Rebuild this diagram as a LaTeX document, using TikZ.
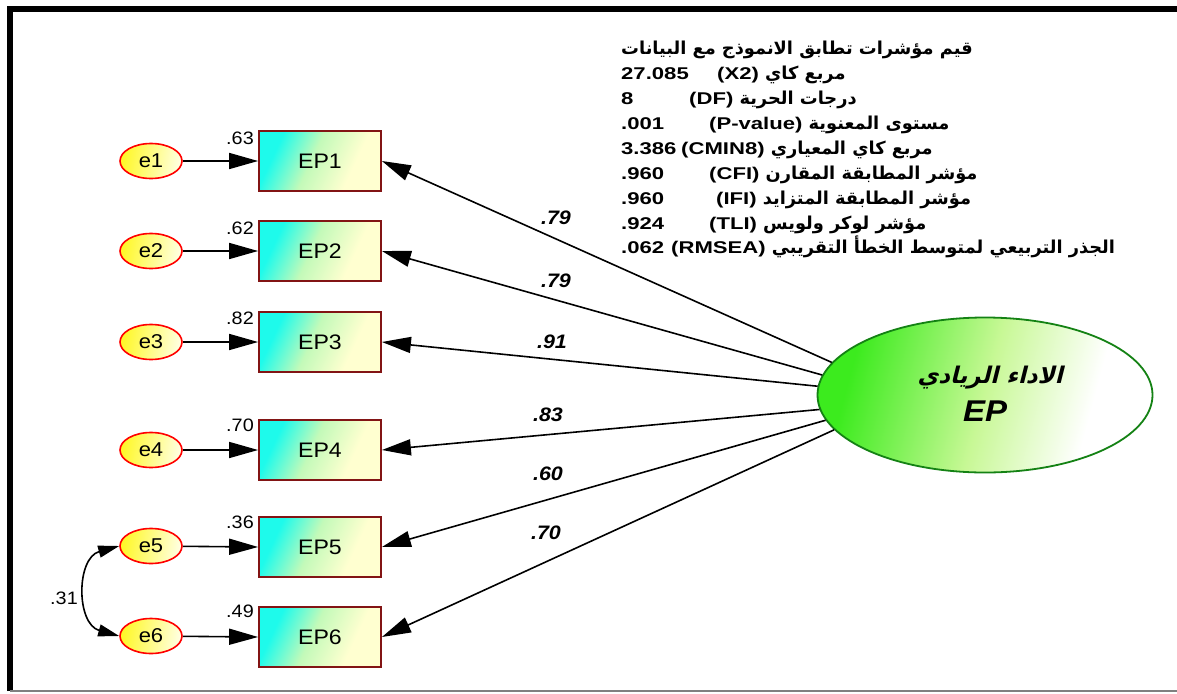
\documentclass[tikz,border=0pt]{standalone}
\usepackage{fontspec}
\setmainfont{Liberation Sans}[FakeStretch=1.1]
\newfontfamily\fitlatin{Liberation Sans}[FakeStretch=1.3]
\newfontfamily\arabicfont[Script=Arabic]{DejaVu Sans}
\newfontfamily\arabicbi[Script=Arabic,FakeSlant=0.25]{DejaVu Sans}
\TeXXeTstate=1
\usetikzlibrary{shapes.geometric,arrows.meta}
\newcommand\artxt[1]{{\arabicfont\bfseries\fontsize{17.8}{24.9}\selectfont\beginR #1\endR}}
\definecolor{boxcyan}{RGB}{30,250,235}
\definecolor{boxmid}{RGB}{195,250,185}
\definecolor{boxyel}{RGB}{255,255,208}
\definecolor{boxedge}{RGB}{130,20,20}
\definecolor{eyel}{RGB}{255,248,40}
\definecolor{eend}{RGB}{255,255,225}
\definecolor{bigg}{RGB}{60,235,30}
\definecolor{bigmid}{RGB}{200,248,150}
\definecolor{bigedge}{RGB}{20,130,20}
\pgfdeclarehorizontalshading{obsshade}{100bp}{color(0bp)=(boxcyan); color(28bp)=(boxcyan); color(46bp)=(boxmid); color(66bp)=(boxyel); color(100bp)=(boxyel)}
\pgfdeclarehorizontalshading{latshade}{100bp}{color(0bp)=(bigg); color(27bp)=(bigg); color(50bp)=(bigmid); color(68bp)=(white); color(100bp)=(white)}
\tikzset{
  obs/.style={draw=boxedge, line width=1.8pt, minimum width=122pt, minimum height=60pt,
    shading=obsshade, shading angle=-25,
    font=\fontsize{21}{24}\selectfont, inner sep=0pt},
  err/.style={ellipse, draw=red, line width=1.6pt, minimum width=62pt, minimum height=35pt,
    left color=eyel, right color=eend, shading angle=80, inner sep=0pt,
    font=\fontsize{20}{24}\selectfont},
  lat/.style={ellipse, draw=bigedge, line width=1.8pt, minimum width=335pt, minimum height=155pt,
    shading=latshade, shading angle=-15, inner sep=0pt},
  tip/.style={-{Triangle[length=29pt,width=16pt]}, line width=1.6pt},
  cov/.style={{Triangle[length=21pt,width=12pt]}-{Triangle[length=21pt,width=12pt]}, line width=1.6pt},
  r2/.style={font=\fontsize{18}{20}\selectfont, inner sep=0pt},
  wt/.style={font=\bfseries\itshape\fontsize{19.5}{22}\selectfont, inner sep=0pt}
}
\begin{document}
\begin{tikzpicture}[x=1pt,y=-1pt]
\useasboundingbox (0,0) rectangle (1177,693);
\fill[white] (0,0) rectangle (1177,693);
% frame
\draw[line width=6pt] (10,691) -- (10,9) -- (1180,9);
\draw[gray, line width=1.5pt] (10,691) -- (1177,691);
% observed boxes
\node[obs] (EP1) at (320,161) {EP1};
\node[obs] (EP2) at (320,251) {EP2};
\node[obs] (EP3) at (320,342) {EP3};
\node[obs] (EP4) at (320,450) {EP4};
\node[obs] (EP5) at (320,547) {EP5};
\node[obs] (EP6) at (320,637) {EP6};
% errors
\node[err] (e1) at (151,161) {e1};
\node[err] (e2) at (151,251) {e2};
\node[err] (e3) at (151,342) {e3};
\node[err] (e4) at (151,450) {e4};
\node[err] (e5) at (151,546) {e5};
\node[err] (e6) at (151,636) {e6};
\foreach \i in {1,...,6}{\draw[tip] (e\i) -- (EP\i.west);}
% R2 labels
\node[r2] (r1) at (240,138) {.63};
\node[r2] (r2n) at (240,228) {.62};
\node[r2] (r3) at (240,318) {.82};
\node[r2] (r4) at (240,425) {.70};
\node[r2] (r5) at (240,522) {.36};
\node[r2] (r6) at (240,611) {.49};
% covariance
\draw[cov] (e5.west) .. controls (76,558) and (76,624) .. (e6.west);
\node[r2] (c56) at (64,598) {.31};
% latent
\node[lat] (EP) at (985,395) {};
\node[font=\arabicbi\bfseries\fontsize{23}{26}\selectfont, inner sep=0pt] (EPa) at (990,378) {\beginR الاداء الريادي\endR};
\node[font=\bfseries\itshape\fontsize{30}{34}\selectfont, inner sep=0pt] (EPb) at (985,411) {EP};
\draw[tip] (EP.168) -- (EP1.east);
\draw[tip] (EP.173) -- (EP2.east);
\draw[tip] (EP.177) -- (EP3.east);
\draw[tip] (EP.185) -- (EP4.east);
\draw[tip] (EP.189) -- (EP5.east);
\draw[tip] (EP.193) -- (EP6.east);
\node[wt] (w1) at (556,218) {.79};
\node[wt] (w2) at (556,281) {.79};
\node[wt] (w3) at (552,342) {.91};
\node[wt] (w4) at (548,415) {.83};
\node[wt] (w5) at (548,474) {.60};
\node[wt] (w6) at (546,533) {.70};
% fit indices
\node[anchor=north west, align=left, inner sep=0pt, font=\fitlatin\bfseries\fontsize{17}{24.9}\selectfont] (fit) at (621,41) {%
\artxt{قيم مؤشرات تطابق الانموذج مع البيانات}\\
\makebox[96pt][l]{27.085}(X2) \artxt{مربع كاي}\\
\makebox[68pt][l]{8}(DF) \artxt{درجات الحرية}\\
\makebox[88pt][l]{.001}(P-value) \artxt{مستوى المعنوية}\\
\makebox[60pt][l]{3.386}(CMIN8) \artxt{مربع كاي المعياري}\\
\makebox[88pt][l]{.960}(CFI) \artxt{مؤشر المطابقة المقارن}\\
\makebox[95pt][l]{.960}(IFI) \artxt{مؤشر المطابقة المتزايد}\\
\makebox[88pt][l]{.924}(TLI) \artxt{مؤشر لوكر ولويس}\\
\makebox[50pt][l]{.062}(RMSEA) \artxt{الجذر التربيعي لمتوسط الخطأ التقريبي}};
\end{tikzpicture}
\end{document}
